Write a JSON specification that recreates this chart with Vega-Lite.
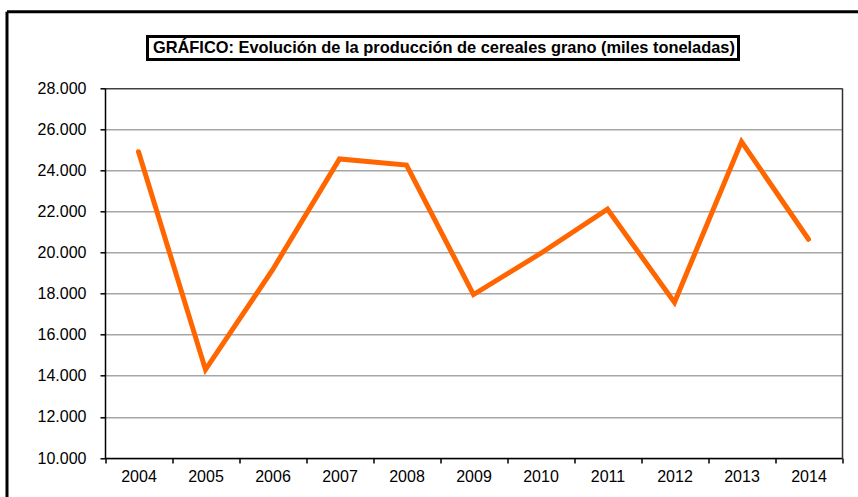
{
  "$schema": "https://vega.github.io/schema/vega-lite/v6.json",
  "autosize": {"type": "none"},
  "padding": {"left": 6.5, "top": 11.3, "right": 0, "bottom": -14.3},
  "background": "white",
  "width": 871,
  "height": 500,
  "view": {"stroke": null},
  "data": {
    "values": [
      {"year": "2004", "value": 24900},
      {"year": "2005", "value": 14300},
      {"year": "2006", "value": 19150},
      {"year": "2007", "value": 24550},
      {"year": "2008", "value": 24250},
      {"year": "2009", "value": 17950},
      {"year": "2010", "value": 19950},
      {"year": "2011", "value": 22100},
      {"year": "2012", "value": 17570},
      {"year": "2013", "value": 25390},
      {"year": "2014", "value": 20640}
    ]
  },
  "resolve": {
    "scale": {"x": "independent", "y": "independent"},
    "axis": {"x": "independent", "y": "independent"}
  },
  "layer": [
    {
      "mark": {"type": "text"},
      "encoding": {
        "x": {
          "field": "year", "type": "ordinal",
          "scale": {"type": "band", "range": [0, 871], "paddingInner": 0, "paddingOuter": 0},
          "axis": {"orient": "top", "offset": 0, "title": null, "labels": false, "ticks": false, "grid": false, "domainColor": "black", "domainWidth": 3}
        },
        "y": {
          "field": "value", "type": "quantitative",
          "scale": {"range": [500, 0], "nice": false, "zero": false},
          "axis": {"orient": "left", "offset": 0, "title": null, "labels": false, "ticks": false, "grid": false, "domainColor": "black", "domainWidth": 3}
        }
      }
    },
    {
      "mark": {"type": "line", "strokeWidth": 5, "strokeCap": "round"},
      "encoding": {
        "x": {
          "field": "year", "type": "ordinal",
          "scale": {"type": "band", "range": [98.5, 835.5], "paddingInner": 0, "paddingOuter": 0},
          "axis": {
            "orient": "bottom", "offset": -53.3, "title": null, "tickBand": "extent",
            "domainColor": "black", "domainWidth": 1.5, "tickColor": "black", "tickSize": 5, "tickWidth": 1.5,
            "labelFont": "Liberation Sans", "labelFontSize": 16, "labelColor": "black", "labelPadding": 5,
            "labelAngle": 0, "grid": false
          }
        },
        "y": {
          "field": "value", "type": "quantitative",
          "scale": {"domain": [10000, 28000], "range": [446.7, 76.7], "nice": false, "zero": false},
          "axis": {
            "orient": "left", "offset": -98.5, "title": null,
            "values": [10000, 12000, 14000, 16000, 18000, 20000, 22000, 24000, 26000, 28000],
            "labelExpr": "replace(format(datum.value, ','), ',', '.')",
            "domainColor": "black", "domainWidth": 1.5, "tickColor": "black", "tickSize": 5, "tickWidth": 1.5,
            "labelFont": "Liberation Sans", "labelFontSize": 16, "labelColor": "black", "labelPadding": 14,
            "grid": true, "gridWidth": 1.5,
            "gridColor": {"condition": {"test": "datum.value >= 28000", "value": "#404040"}, "value": "#a6a6a6"}
          }
        },
        "color": {
          "datum": "GRÁFICO: Evolución de la producción de cereales grano (miles toneladas)",
          "type": "nominal",
          "scale": {"range": ["#FF6600"]},
          "legend": {
            "orient": "none", "legendX": 141, "legendY": 25.2, "title": null,
            "strokeColor": "black", "fillColor": "white", "padding": 3,
            "symbolSize": 0, "symbolOpacity": 0, "symbolStrokeWidth": 0, "labelOffset": -14,
            "labelFont": "Liberation Sans", "labelFontWeight": "bold", "labelFontSize": 16.4,
            "labelColor": "black", "labelLimit": 2000,
            "encoding": {"legend": {"strokeWidth": {"value": 3}}}
          }
        }
      }
    },
    {
      "mark": {"type": "text"},
      "encoding": {
        "x": {
          "field": "year", "type": "ordinal",
          "scale": {"type": "band", "range": [98.5, 835.5], "paddingInner": 0, "paddingOuter": 0},
          "axis": null
        },
        "y": {
          "field": "value", "type": "quantitative",
          "scale": {"domain": [10000, 28000], "range": [446.7, 76.7], "nice": false, "zero": false},
          "axis": {
            "orient": "right", "offset": -35.5, "title": null, "labels": false, "ticks": false, "grid": false,
            "domainColor": "#303030", "domainWidth": 1.5
          }
        }
      }
    }
  ],
  "config": {"font": "Liberation Sans"}
}
